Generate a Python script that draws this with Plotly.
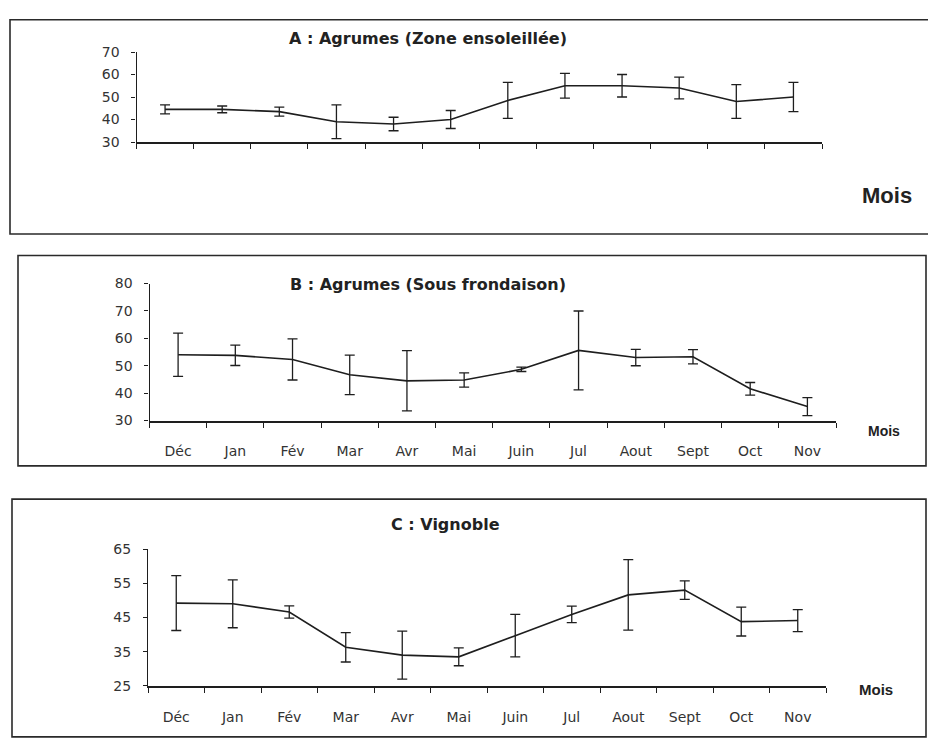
import plotly.graph_objects as go

# ---------------- data ----------------
months = ["Déc", "Jan", "Fév", "Mar", "Avr", "Mai", "Juin", "Jul", "Aout", "Sept", "Oct", "Nov"]

a_values = [44.5, 44.5, 43.5, 39.0, 38.0, 40.0, 48.5, 55.0, 55.0, 54.0, 48.0, 50.0]
a_err = [2.0, 1.5, 2.0, 7.5, 3.0, 4.0, 8.0, 5.5, 5.0, 4.8, 7.5, 6.5]

b_values = [54.0, 53.8, 52.3, 46.7, 44.5, 44.8, 48.7, 55.6, 53.0, 53.3, 41.6, 35.1]
b_err = [7.9, 3.7, 7.5, 7.2, 11.0, 2.6, 0.8, 14.4, 3.0, 2.6, 2.3, 3.3]

c_values = [49.2, 49.0, 46.6, 36.3, 34.0, 33.5, 39.7, 45.9, 51.6, 53.0, 43.8, 44.1]
c_err = [8.0, 7.0, 1.8, 4.3, 7.0, 2.6, 6.2, 2.4, 10.3, 2.7, 4.2, 3.2]

a_ticks = [30, 40, 50, 60, 70]
b_ticks = [30, 40, 50, 60, 70, 80]
c_ticks = [25, 35, 45, 55, 65]

titles = ["A : Agrumes (Zone ensoleillée)", "B : Agrumes (Sous frondaison)", "C : Vignoble"]
xlabel = "Mois"

# ---------------- layout helpers ----------------
W, H = 928, 738


def px(x):
    return x / W


def py(y):
    return 1 - y / H


INK = "#1e1e1e"
FONT = "DejaVu Sans, Liberation Sans, Arial, sans-serif"

fig = go.Figure()

panels = [
    dict(vals=a_values, err=a_err, ticks=a_ticks, rng=[30, 70], xd=[136.5, 822], yd=[137, 45], labels=False),
    dict(vals=b_values, err=b_err, ticks=b_ticks, rng=[30, 80], xd=[149.5, 836], yd=[421.7, 281.7], labels=True),
    dict(vals=c_values, err=c_err, ticks=c_ticks, rng=[25, 65], xd=[148, 826], yd=[693, 553], labels=True),
]

layout = {}
for i, p in enumerate(panels):
    suffix = "" if i == 0 else str(i + 1)
    fig.add_trace(go.Scatter(
        x=months, y=p["vals"], mode="lines",
        line=dict(color=INK, width=1.6),
        error_y=dict(type="data", array=p["err"], visible=True, color=INK, thickness=1.3, width=5),
        xaxis="x" + suffix, yaxis="y" + suffix, showlegend=False, hoverinfo="skip",
    ))
    layout["xaxis" + suffix] = dict(
        domain=[px(p["xd"][0]), px(p["xd"][1])],
        anchor="y" + suffix,
        type="category", categoryorder="array", categoryarray=months,
        range=[-0.5, 11.5],
        showline=True, linecolor=INK, linewidth=2,
        ticks="outside", tickson="boundaries", ticklen=5, tickcolor=INK, tickwidth=1.2,
        showticklabels=p["labels"], ticklabelstandoff=17,
        tickfont=dict(family=FONT, size=14, color="#333"),
        showgrid=False, zeroline=False, fixedrange=True,
    )
    layout["yaxis" + suffix] = dict(
        domain=[py(p["yd"][0]), py(p["yd"][1])],
        anchor="x" + suffix,
        range=p["rng"], tickmode="array", tickvals=p["ticks"],
        showline=True, linecolor=INK, linewidth=1.3,
        ticks="outside", ticklen=4, tickcolor=INK, ticklabelstandoff=9,
        tickfont=dict(family=FONT, size=14, color="#333"),
        showgrid=False, zeroline=False, fixedrange=True,
    )

# panel frames
frames = [(10, 12, 932, 231), (18, 253, 926, 468), (12, 502, 926, 745)]
shapes = []
for x0, y0, x1, y1 in frames:
    shapes.append(dict(type="rect", xref="paper", yref="paper",
                       x0=px(x0), x1=px(x1), y0=py(y1), y1=py(y0),
                       line=dict(color="#2a2a2a", width=1.6), fillcolor="rgba(0,0,0,0)"))

annotations = []
title_pos = [(428, 31), (428, 283), (445, 528)]
for t, (x, y) in zip(titles, title_pos):
    annotations.append(dict(text="<b>" + t + "</b>", x=px(x), y=py(y), xref="paper", yref="paper",
                            showarrow=False, xanchor="center", yanchor="middle",
                            font=dict(family="DejaVu Sans, sans-serif", size=16, color="#222")))

mois_pos = [(887, 192, 22), (884, 432, 14), (876, 697, 15)]
for x, y, s in mois_pos:
    annotations.append(dict(text="<b>" + xlabel + "</b>", x=px(x), y=py(y), xref="paper", yref="paper",
                            showarrow=False, xanchor="center", yanchor="middle",
                            font=dict(family="Liberation Sans, Arial, sans-serif", size=s, color="#222")))

fig.update_layout(
    width=W, height=H,
    margin=dict(l=0, r=0, t=0, b=0),
    paper_bgcolor="white", plot_bgcolor="white",
    shapes=shapes, annotations=annotations,
    **layout,
)

fig.write_html(
    "out.html",
    config={"displayModeBar": False},
    post_script="document.body.style.margin='0';document.body.style.padding='0';"
                "document.documentElement.style.overflow='hidden';",
)
